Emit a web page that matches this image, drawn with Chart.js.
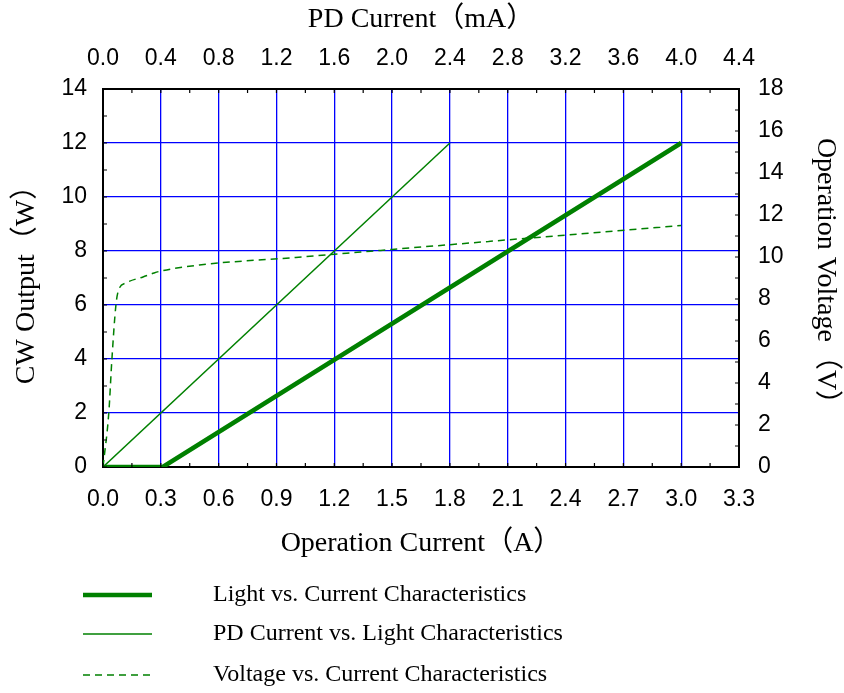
<!DOCTYPE html>
<html>
<head>
<meta charset="utf-8">
<style>
  html, body { margin: 0; padding: 0; background: #fff; }
  #wrap { width: 844px; height: 693px; }
</style>
<script src="https://cdn.jsdelivr.net/npm/chart.js@4/dist/chart.umd.min.js"></script>
</head>
<body>
<div id="wrap"><canvas id="chart" width="844" height="693"></canvas></div>
<script>
// L-I curve: operation current (A) vs CW output (W)
const LI_CURRENT = [0, 0.31, 3.0];
const LI_OUTPUT = [0, 0, 12];
// PD current (mA) vs CW output (W)
const PD_CURRENT = [0, 2.4];
const PD_OUTPUT = [0, 12];
// V-I curve: operation current (A) vs voltage (V)
const VI_CURRENT = [0, 0.03, 0.046, 0.067, 0.081, 0.118, 0.2075, 0.265, 0.3, 0.5, 1.0, 1.5, 2.0, 2.5, 3.0];
const VI_VOLTAGE = [0, 2.57, 5.1, 7.71, 8.43, 8.76, 9.05, 9.24, 9.33, 9.62, 9.98, 10.36, 10.74, 11.12, 11.5];

const LEGEND_LABELS = [
  'Light vs. Current Characteristics',
  'PD Current vs. Light Characteristics',
  'Voltage vs. Current Characteristics'
];

const GREEN = '#008000';
const BLUE = '#0000ff';
const SERIF = "'Liberation Serif', 'Times New Roman', 'Noto Sans CJK SC', serif";
const SANS = "'Liberation Sans', Arial, sans-serif";

function pts(xs, ys) {
  return xs.map((x, i) => ({ x, y: ys[i] }));
}

// small inward ticks on all four sides of the frame
const innerTicks = {
  id: 'innerTicks',
  afterDatasetsDraw(chart) {
    const { ctx, chartArea: a, scales } = chart;
    const len = 4;
    ctx.save();
    ctx.strokeStyle = '#000';
    ctx.lineWidth = 1.2;
    ctx.beginPath();
    for (let v = 0; v <= 3.3001; v += 0.15) {
      const px = scales.x.getPixelForValue(v);
      ctx.moveTo(px, a.bottom); ctx.lineTo(px, a.bottom - len);
    }
    for (let v = 0; v <= 4.4001; v += 0.2) {
      const px = scales.x2.getPixelForValue(v);
      ctx.moveTo(px, a.top); ctx.lineTo(px, a.top + len);
    }
    for (let v = 0; v <= 14; v += 1) {
      const py = scales.y.getPixelForValue(v);
      ctx.moveTo(a.left, py); ctx.lineTo(a.left + len, py);
    }
    for (let v = 0; v <= 18; v += 1) {
      const py = scales.y2.getPixelForValue(v);
      ctx.moveTo(a.right, py); ctx.lineTo(a.right - len, py);
    }
    ctx.stroke();
    ctx.restore();
  }
};

// vertical legend below the plot
const sideLegend = {
  id: 'sideLegend',
  afterDraw(chart) {
    const { ctx } = chart;
    const rows = [595, 634, 675];
    ctx.save();
    chart.data.datasets.forEach((ds, i) => {
      const y = rows[i];
      ctx.beginPath();
      ctx.strokeStyle = ds.borderColor;
      ctx.lineWidth = ds.borderWidth;
      ctx.setLineDash(ds.borderDash || []);
      ctx.moveTo(83, y);
      ctx.lineTo(152, y);
      ctx.stroke();
      ctx.setLineDash([]);
      ctx.fillStyle = '#000';
      ctx.font = '24px ' + SERIF;
      ctx.textBaseline = 'middle';
      ctx.textAlign = 'left';
      ctx.fillText(ds.label, 213, y);
    });
    ctx.restore();
  }
};

const tickFont = { family: SANS, size: 23 };
const titleFont = { family: SERIF, size: 28 };

new Chart(document.getElementById('chart'), {
  type: 'line',
  data: {
    datasets: [
      {
        label: LEGEND_LABELS[0],
        data: pts(LI_CURRENT, LI_OUTPUT),
        xAxisID: 'x', yAxisID: 'y',
        borderColor: GREEN, borderWidth: 4.5,
        pointRadius: 0, tension: 0
      },
      {
        label: LEGEND_LABELS[1],
        data: pts(PD_CURRENT, PD_OUTPUT),
        xAxisID: 'x2', yAxisID: 'y',
        borderColor: GREEN, borderWidth: 1.5,
        pointRadius: 0, tension: 0
      },
      {
        label: LEGEND_LABELS[2],
        data: pts(VI_CURRENT, VI_VOLTAGE),
        xAxisID: 'x', yAxisID: 'y2',
        borderColor: GREEN, borderWidth: 1.5, borderDash: [7, 5],
        pointRadius: 0, cubicInterpolationMode: 'monotone'
      }
    ]
  },
  options: {
    responsive: false,
    animation: false,
    layout: { padding: { left: 0, right: 0, top: 0, bottom: 133 } },
    plugins: { legend: { display: false }, tooltip: { enabled: false } },
    scales: {
      x: {
        type: 'linear', position: 'bottom', min: 0, max: 3.3,
        afterFit: (s) => { s.height = 93; },
        ticks: { stepSize: 0.3, color: '#000', font: tickFont, padding: 19, maxRotation: 0,
                 callback: (v) => v.toFixed(1) },
        grid: { color: BLUE, lineWidth: 1.3, drawTicks: false },
        border: { display: true, color: '#000', width: 2 },
        title: { display: true, text: 'Operation Current（A）', color: '#000', font: titleFont,
                 padding: { top: 0, bottom: 0 } }
      },
      x2: {
        type: 'linear', position: 'top', min: 0, max: 4.4,
        afterFit: (s) => { s.height = 89; },
        ticks: { stepSize: 0.4, color: '#000', font: tickFont, padding: 17, maxRotation: 0,
                 callback: (v) => v.toFixed(1) },
        grid: { drawOnChartArea: false, drawTicks: false },
        border: { display: true, color: '#000', width: 2 },
        title: { display: true, text: 'PD Current（mA）', color: '#000', font: titleFont,
                 padding: { top: 3, bottom: 0 } }
      },
      y: {
        type: 'linear', position: 'left', min: 0, max: 14,
        afterFit: (s) => { s.width = 103; },
        ticks: { stepSize: 2, color: '#000', font: tickFont, padding: 16 },
        grid: { color: BLUE, lineWidth: 1.3, drawTicks: false },
        border: { display: true, color: '#000', width: 2 },
        title: { display: true, text: 'CW Output（W）', color: '#000', font: titleFont,
                 padding: { top: 10, bottom: 0 } }
      },
      y2: {
        type: 'linear', position: 'right', min: 0, max: 18,
        afterFit: (s) => { s.width = 105; },
        ticks: { stepSize: 2, color: '#000', font: tickFont, padding: 19 },
        grid: { drawOnChartArea: false, drawTicks: false },
        border: { display: true, color: '#000', width: 2 },
        title: { display: true, text: 'Operation Voltage（V）', color: '#000', font: titleFont,
                 padding: { top: 2, bottom: 0 } }
      }
    }
  },
  plugins: [innerTicks, sideLegend]
});
</script>
</body>
</html>
